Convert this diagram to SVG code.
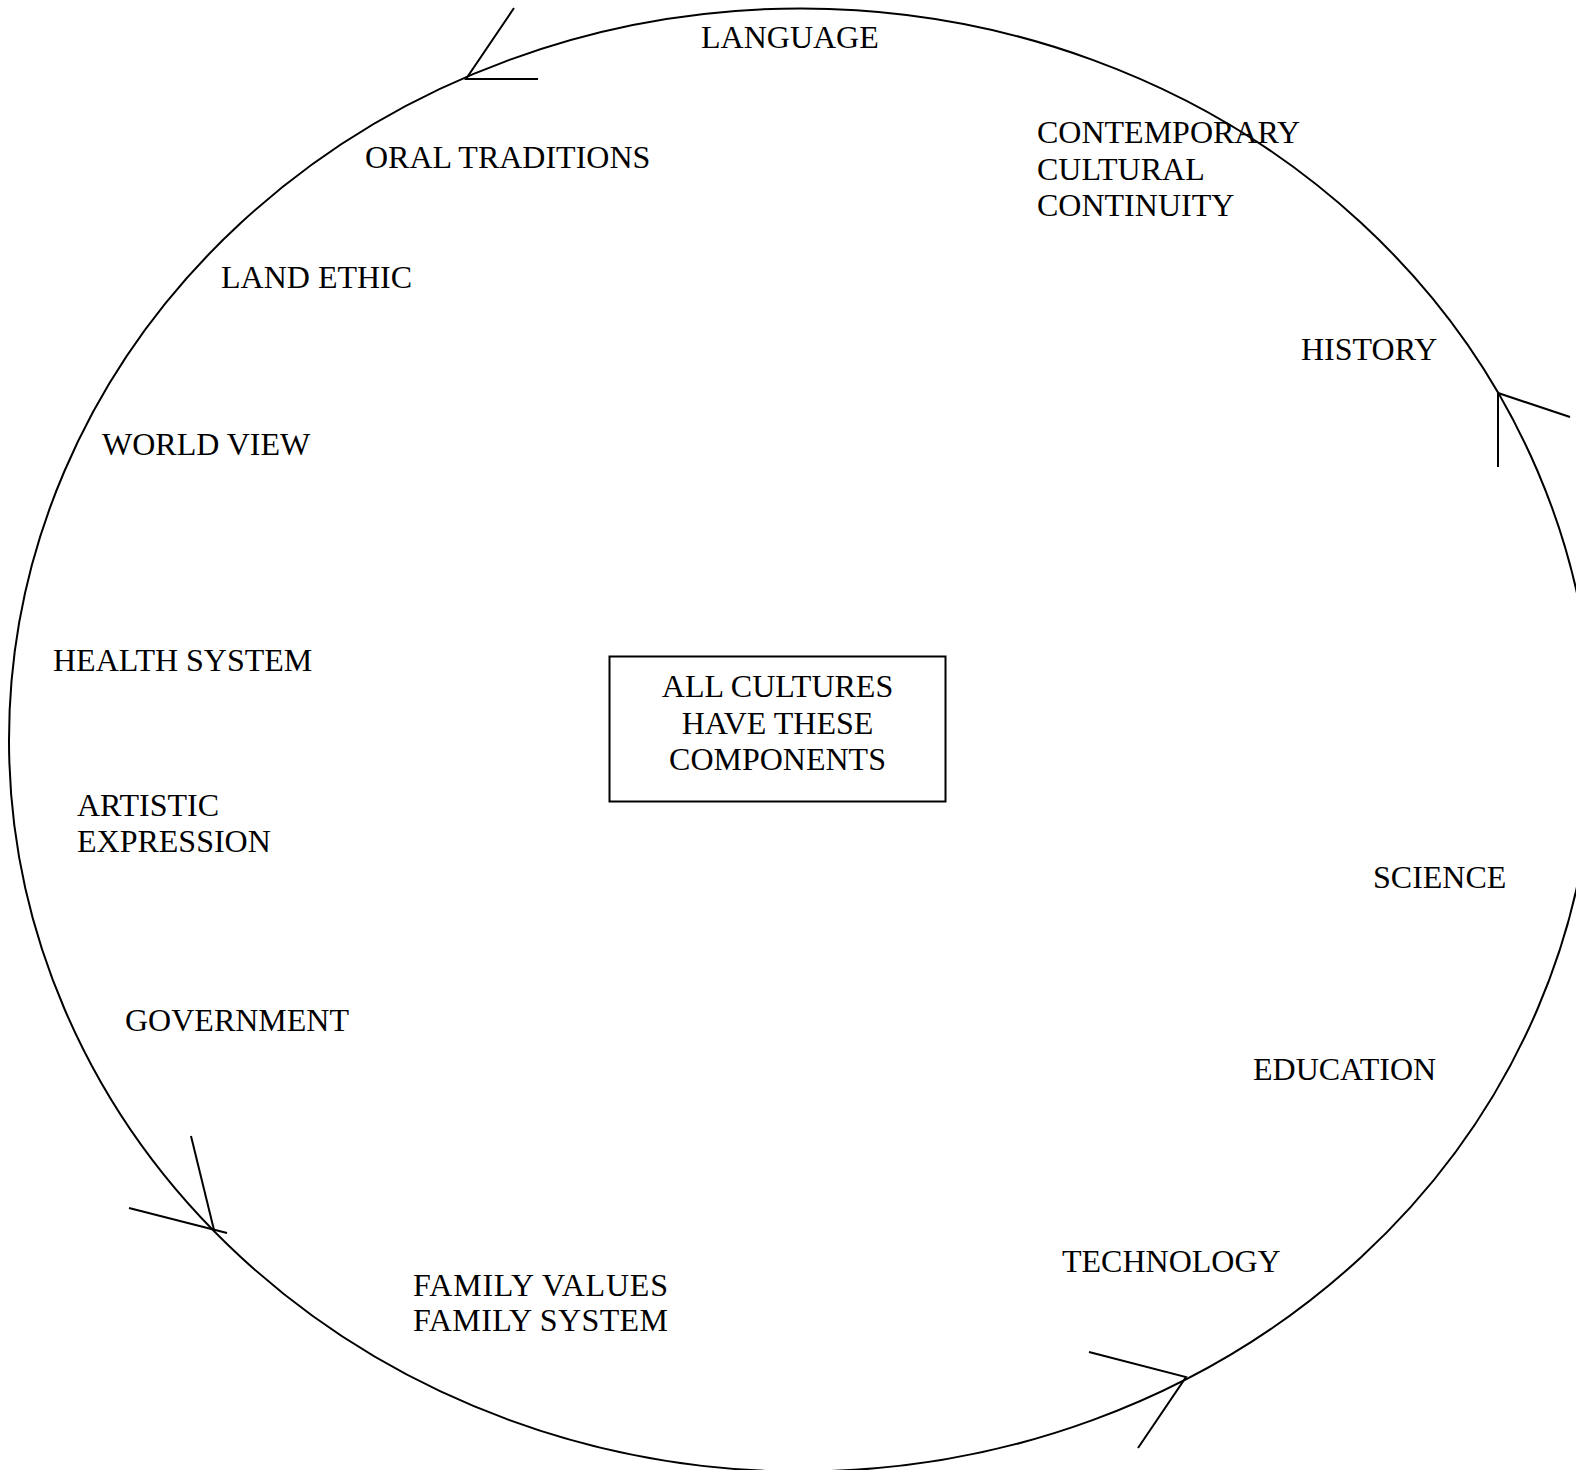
<svg xmlns="http://www.w3.org/2000/svg" width="1576" height="1470" viewBox="0 0 1576 1470">
<style>
.t{font-family:"Liberation Serif","Times New Roman",serif;font-size:32px;fill:#000}
.c{text-anchor:middle}
.s{fill:none;stroke:#000;stroke-width:2}
</style>
<rect width="1576" height="1470" fill="#fff"/>
<g id="cycle">
<ellipse class="s" cx="801" cy="740" rx="792" ry="731.5"/>
</g>
<g id="connectors">
<path class="s" d="M514,8 L466,79 L538,79"/>
<path class="s" d="M1570,417 L1498,393 L1498,467"/>
<path class="s" d="M191,1136 L214,1230"/>
<path class="s" d="M129,1208 L227,1233"/>
<path class="s" d="M1089,1352 L1186,1377 L1138,1448"/>
</g>
<g id="center">
<rect class="s" x="609.5" y="656.5" width="336" height="145"/>
<text class="t c" x="777.5" y="697">ALL CULTURES</text>
<text class="t c" x="777.5" y="733.5">HAVE THESE</text>
<text class="t c" x="777.5" y="770">COMPONENTS</text>
</g>
<g id="language"><text class="t" x="701" y="48">LANGUAGE</text></g>
<g id="oral"><text class="t" x="365" y="168">ORAL TRADITIONS</text></g>
<g id="contemporary">
<text class="t" x="1037" y="143">CONTEMPORARY</text>
<text class="t" x="1037" y="179.5">CULTURAL</text>
<text class="t" x="1037" y="216">CONTINUITY</text>
</g>
<g id="land"><text class="t" x="221" y="288">LAND ETHIC</text></g>
<g id="history"><text class="t" x="1301" y="360">HISTORY</text></g>
<g id="worldview"><text class="t" x="102" y="455">WORLD VIEW</text></g>
<g id="health"><text class="t" x="53" y="671">HEALTH SYSTEM</text></g>
<g id="artistic">
<text class="t" x="77" y="816">ARTISTIC</text>
<text class="t" x="77" y="852">EXPRESSION</text>
</g>
<g id="science"><text class="t" x="1373" y="888">SCIENCE</text></g>
<g id="government"><text class="t" x="125" y="1031">GOVERNMENT</text></g>
<g id="education"><text class="t" x="1253" y="1080">EDUCATION</text></g>
<g id="technology"><text class="t" x="1062" y="1272">TECHNOLOGY</text></g>
<g id="family">
<text class="t" x="413" y="1296" textLength="255" lengthAdjust="spacing">FAMILY VALUES</text>
<text class="t" x="413" y="1331" textLength="255" lengthAdjust="spacing">FAMILY SYSTEM</text>
</g>
</svg>
